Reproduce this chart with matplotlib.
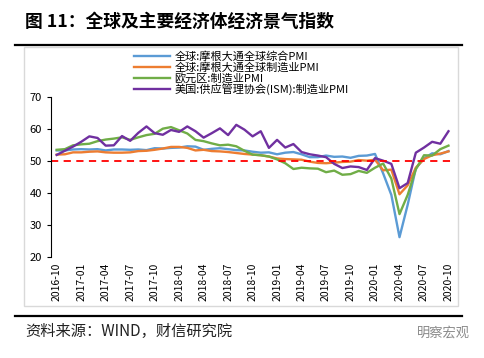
import matplotlib.pyplot as plt
import numpy as np
from matplotlib.patches import Rectangle
from matplotlib.lines import Line2D

plt.rcParams['font.family'] = ['Noto Sans CJK SC', 'DejaVu Sans']

# monthly, 2016-10 .. 2020-10
months = ['2016-10', '2016-11', '2016-12',
          '2017-01', '2017-02', '2017-03', '2017-04', '2017-05', '2017-06',
          '2017-07', '2017-08', '2017-09', '2017-10', '2017-11', '2017-12',
          '2018-01', '2018-02', '2018-03', '2018-04', '2018-05', '2018-06',
          '2018-07', '2018-08', '2018-09', '2018-10', '2018-11', '2018-12',
          '2019-01', '2019-02', '2019-03', '2019-04', '2019-05', '2019-06',
          '2019-07', '2019-08', '2019-09', '2019-10', '2019-11', '2019-12',
          '2020-01', '2020-02', '2020-03', '2020-04', '2020-05', '2020-06',
          '2020-07', '2020-08', '2020-09', '2020-10']

global_composite = [53.3, 53.3, 53.6, 53.7, 53.6, 53.7, 53.3, 53.6, 53.6,
                    53.5, 53.6, 53.4, 54.0, 53.9, 54.1, 54.2, 54.6, 54.5,
                    53.5, 53.8, 54.0, 53.7, 53.4, 53.3, 52.9, 52.6, 52.7,
                    52.1, 52.6, 52.8, 52.1, 51.2, 51.2, 51.7, 51.3, 51.4,
                    51.0, 51.6, 51.7, 52.2, 46.1, 39.4, 26.2, 36.3, 47.7,
                    50.8, 52.4, 52.1, 53.1]
global_mfg = [52.0, 52.1, 52.7, 52.7, 52.9, 53.0, 52.7, 52.6, 52.6,
              52.7, 53.1, 53.2, 53.5, 53.9, 54.4, 54.4, 54.1, 53.3,
              53.5, 53.1, 53.0, 52.8, 52.5, 52.2, 52.0, 51.8, 51.4,
              50.8, 50.6, 50.5, 50.4, 49.8, 49.4, 49.3, 49.5, 49.7,
              49.8, 50.3, 50.1, 50.4, 47.1, 47.3, 39.6, 42.4, 47.9,
              50.6, 51.8, 52.3, 53.0]
euro_mfg = [53.5, 53.7, 54.9, 55.2, 55.4, 56.2, 56.7, 57.0, 57.4,
            56.6, 57.4, 58.1, 58.5, 60.1, 60.6, 59.6, 58.6, 56.6,
            56.2, 55.5, 54.9, 55.1, 54.6, 53.2, 52.0, 51.8, 51.4,
            50.5, 49.3, 47.5, 47.9, 47.7, 47.6, 46.5, 47.0, 45.7,
            45.9, 46.9, 46.3, 47.9, 49.2, 44.5, 33.4, 39.4, 47.4,
            51.8, 51.7, 53.7, 54.8]
us_ism = [51.9, 53.2, 54.5, 56.0, 57.7, 57.2, 54.8, 54.9, 57.8,
          56.3, 58.8, 60.8, 58.7, 58.2, 59.7, 59.1, 60.8, 59.3,
          57.3, 58.7, 60.2, 58.1, 61.3, 59.8, 57.7, 59.3, 54.1,
          56.6, 54.2, 55.3, 52.8, 52.1, 51.7, 51.2, 49.1, 47.8,
          48.3, 48.1, 47.2, 50.9, 50.1, 49.1, 41.5, 43.1, 52.6,
          54.2, 56.0, 55.4, 59.3]

labels = ['全球:摩根大通全球综合PMI', '全球:摩根大通全球制造业PMI',
          '欧元区:制造业PMI', '美国:供应管理协会(ISM):制造业PMI']
colors = ['#5B9BD5', '#ED7D31', '#70AD47', '#7030A0']

fig = plt.figure(figsize=(4.85, 3.58), dpi=100)

# title and rules
fig.text(25 / 485, 1 - 22 / 358, '图 11：全球及主要经济体经济景气指数',
         fontsize=12.8, fontweight='bold', va='center', ha='left')
fig.add_artist(Line2D([15 / 485, 462 / 485], [1 - 45 / 358] * 2,
                      color='black', linewidth=1.6))
fig.add_artist(Line2D([15 / 485, 462 / 485], [1 - 316 / 358] * 2,
                      color='black', linewidth=1.6))
fig.add_artist(Rectangle((24 / 485, 1 - 306 / 358), 434 / 485, 259 / 358,
                         fill=False, edgecolor='#d9d9d9', linewidth=1))

ax = fig.add_axes([51 / 485, 1 - 257 / 358, 404 / 485, 160 / 358])
x = np.arange(len(months))
series = [global_composite, global_mfg, euro_mfg, us_ism]
for vals, lab, c in zip(series, labels, colors):
    ax.plot(x, vals, color=c, linewidth=1.7, label=lab)
ax.axhline(50, color='#FF0000', linestyle=(0, (4, 3)), linewidth=1.3)

ax.set_xlim(-0.7, 48.8)
ax.set_ylim(20, 70)
ax.set_yticks(range(20, 71, 10))
ax.set_xticks(x[::3])
ax.set_xticklabels(months[::3], rotation=90, fontsize=7.5)
ax.tick_params(axis='y', labelsize=8, length=3, direction='out')
ax.tick_params(axis='x', length=0, pad=4)
for s in ['top', 'right', 'bottom']:
    ax.spines[s].set_visible(False)
ax.spines['left'].set_color('black')

ax.legend(loc='lower left', bbox_to_anchor=(128 / 485, 1 - 101 / 358),
          bbox_transform=fig.transFigure, frameon=False, fontsize=8,
          handlelength=3.3, handletextpad=0.4, labelspacing=0.0,
          borderpad=0)

fig.text(25 / 485, 1 - 331 / 358, '资料来源：WIND，财信研究院',
         fontsize=11, style='italic', va='center', ha='left', color='#222222')
fig.text(470 / 485, 1 - 333 / 358, '明察宏观', fontsize=9.5,
         va='center', ha='right', color='#888888')

fig.savefig('out.png', dpi=100)
